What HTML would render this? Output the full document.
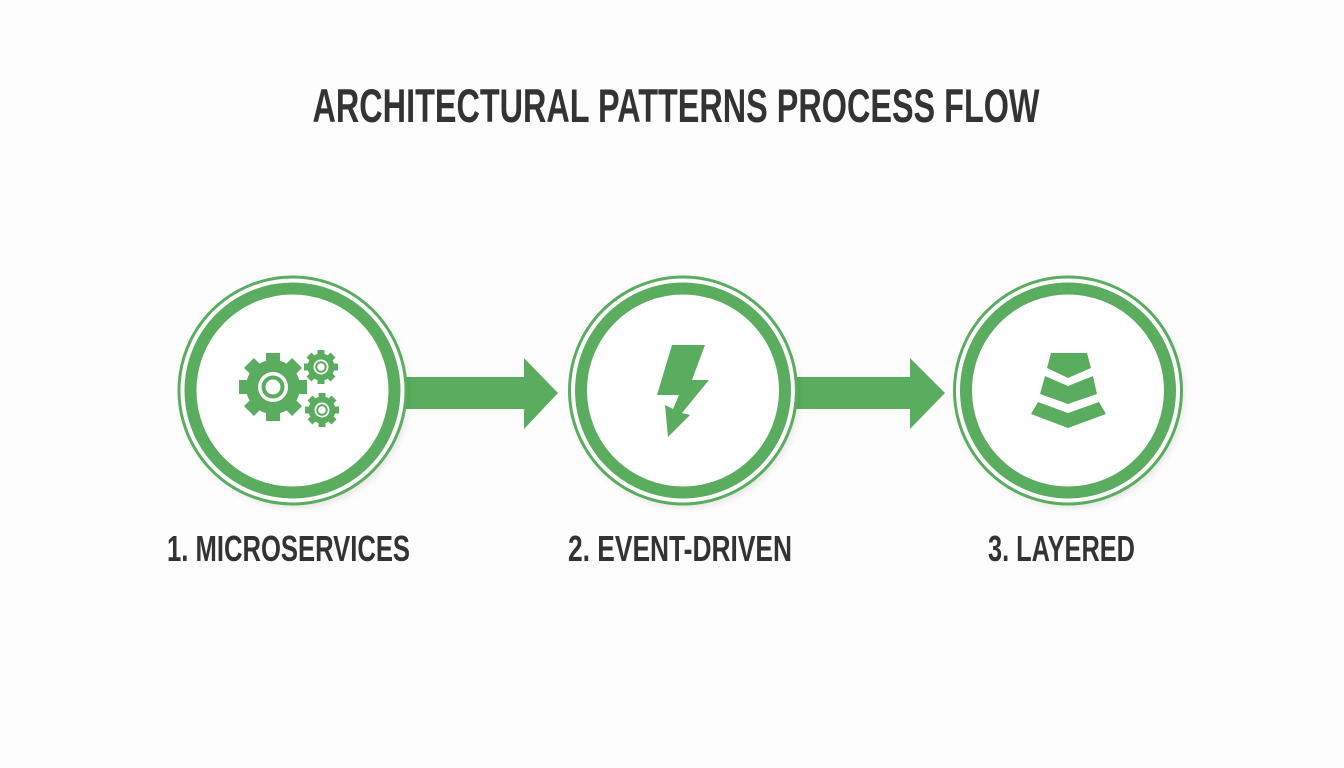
<!DOCTYPE html>
<html><head><meta charset="utf-8"><style>
html,body{margin:0;padding:0;background:#fdfdfd;}
svg{display:block}
text{font-family:"Liberation Sans",sans-serif;font-weight:bold;fill:#333}
</style></head><body>
<svg width="1344" height="768" viewBox="0 0 1344 768" xmlns="http://www.w3.org/2000/svg">
<defs>
<filter id="sh" x="-20%" y="-20%" width="140%" height="140%"><feDropShadow dx="3" dy="4" stdDeviation="4" flood-color="#000" flood-opacity="0.12"/></filter>
<g id="ring">
  <circle r="112" fill="#fff" filter="url(#sh)"/>
  <circle r="113.5" fill="none" stroke="#5aad5e" stroke-width="3"/>
  <circle r="102" fill="none" stroke="#5aad5e" stroke-width="12"/>
</g>
<g id="gear">
  <g fill="#5aad5e">
    <rect x="-7" y="-34" width="14" height="68"/>
    <rect x="-7" y="-34" width="14" height="68" transform="rotate(45)"/>
    <rect x="-7" y="-34" width="14" height="68" transform="rotate(90)"/>
    <rect x="-7" y="-34" width="14" height="68" transform="rotate(135)"/>
    <circle r="27"/>
  </g>
  <circle r="15" fill="#fff"/>
  <circle r="11.5" fill="#5aad5e"/>
  <circle r="7.5" fill="#fff"/>
</g>
</defs>
<rect width="1344" height="768" fill="#fdfdfd"/>
<text x="676" y="122" font-size="47" text-anchor="middle" textLength="727" lengthAdjust="spacingAndGlyphs">ARCHITECTURAL PATTERNS PROCESS FLOW</text>

<!-- arrows -->
<g fill="#5aad5e">
  <polygon points="405,377 524,377 524,358 558,393 524,429 524,409 405,409"/>
  <polygon points="793,377 910,377 910,358 945,393 910,429 910,409 793,409"/>
</g>

<use href="#ring" transform="translate(292.5,390.5)"/>
<use href="#ring" transform="translate(683,390.5)"/>
<use href="#ring" transform="translate(1068,390.5)"/>

<!-- gears -->
<use href="#gear" transform="translate(273,387)"/>
<use href="#gear" transform="translate(321,367) scale(0.5)"/>
<use href="#gear" transform="translate(322,410) scale(0.5)"/>

<!-- lightning -->
<polygon fill="#5aad5e" points="672,345 705,345 692,380 709,380 682,413 690,415 668,437 665,405 673,409 679,395 657,395"/>

<!-- layers -->
<g fill="#5aad5e">
  <polygon points="1051,353 1087,353 1091,368 1068,378 1047,368"/>
  <polygon points="1045,376 1068,386 1093,376 1097,394 1068,404 1040,394"/>
  <polygon points="1038,402 1068,413 1099,402 1106,414 1068,428 1031,414"/>
</g>

<text x="167" y="561" font-size="36" textLength="243" lengthAdjust="spacingAndGlyphs">1. MICROSERVICES</text>
<text x="568" y="561" font-size="36" textLength="224" lengthAdjust="spacingAndGlyphs">2. EVENT-DRIVEN</text>
<text x="988" y="561" font-size="36" textLength="147" lengthAdjust="spacingAndGlyphs">3. LAYERED</text>
</svg>
</body></html>
